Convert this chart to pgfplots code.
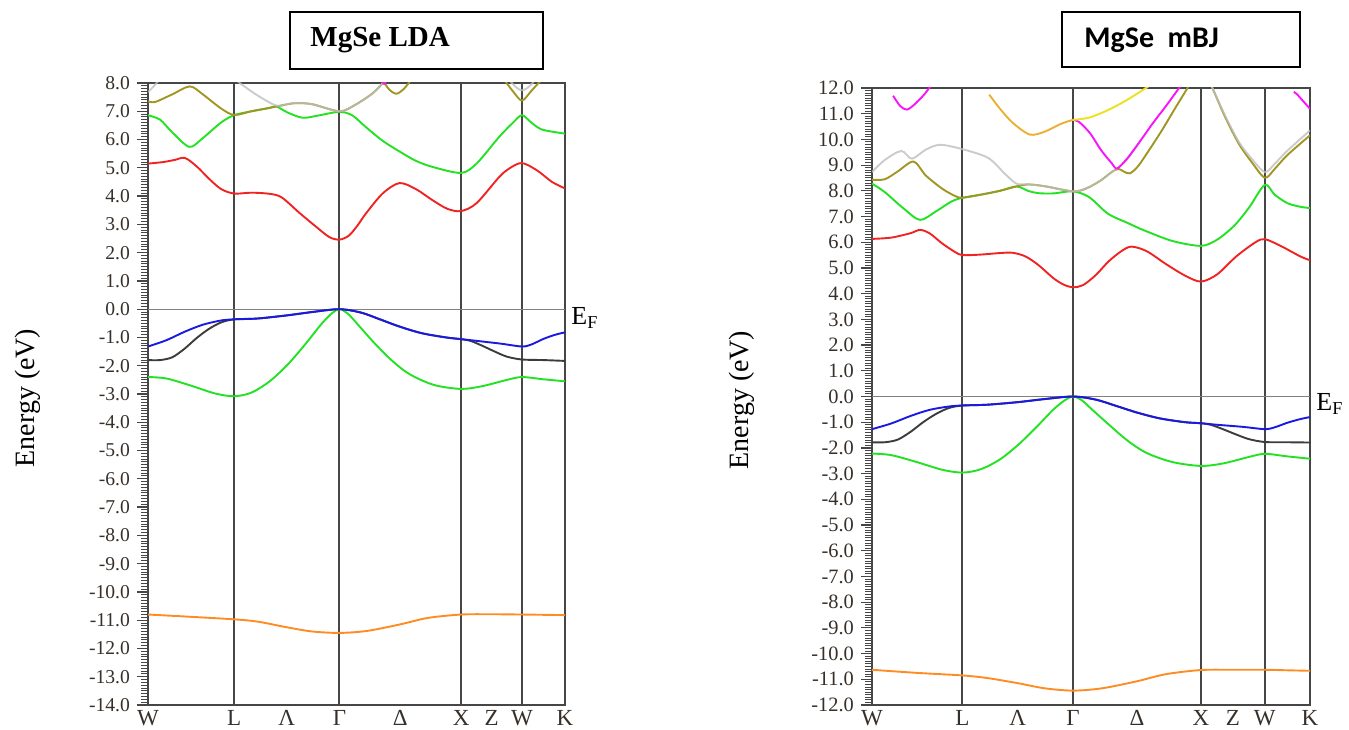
\documentclass[border=0pt]{standalone}
\usepackage{fontspec}
\setmainfont{Liberation Serif}
\newfontfamily\carlito{Carlito}
\usepackage{pgfplots}
\pgfplotsset{compat=1.18}

\definecolor{cRed}{RGB}{240,35,35}
\definecolor{cGreen}{RGB}{35,225,35}
\definecolor{cBlue}{RGB}{25,25,225}
\definecolor{cBlack}{RGB}{60,60,60}
\definecolor{cOlive}{RGB}{160,150,35}
\definecolor{cGray}{RGB}{190,190,190}
\definecolor{cOrange}{RGB}{255,140,35}
\definecolor{cMag}{RGB}{250,20,250}
\definecolor{cGold}{RGB}{235,175,50}
\definecolor{cYellow}{RGB}{235,225,30}
\definecolor{axc}{RGB}{70,70,70}
\definecolor{tickc}{RGB}{55,48,42}

\pgfplotsset{bandaxis/.style={
  scale only axis, anchor=south west,
  xmin=0, xmax=3.4267,
  xtick={0,0.7071,1.1401,1.5731,2.0731,2.5731,2.8231,3.0731,3.4267},
  xticklabels={W,L,Λ,Γ,Δ,X,Z,W,K},
  xtick pos=bottom, ytick pos=left,
  x tick style={draw=none},
  xticklabel style={font=\fontsize{11.5}{12}\selectfont, text=tickc, inner sep=0pt, anchor=north, yshift=3pt},
  extra x ticks={0.7071,1.5731,2.5731,3.0731},
  extra x tick labels={},
  extra x tick style={grid=major, major grid style={draw=axc, line width=1pt}, tick style={draw=none}},
  extra y ticks={0}, extra y tick labels={},
  extra y tick style={grid=major, major grid style={draw=gray, line width=0.5pt}},
  tick align=outside,
  minor y tick num=9,
  major tick length=5.5pt, minor tick length=3.5pt,
  y tick style={draw=axc, line width=0.6pt},
  minor y tick style={draw=axc, line width=0.5pt},
  axis line style={draw=axc, line width=1pt},
  yticklabel style={text=tickc, /pgf/number format/fixed, /pgf/number format/fixed zerofill, /pgf/number format/precision=1, /pgf/number format/assume math mode=true},
  every axis plot/.append style={no markers, smooth, line width=0.95pt},
}}

\begin{document}
\begin{tikzpicture}[x=1pt,y=1pt]
\useasboundingbox (0,0) rectangle (674.5,364.5);

% ---------------- LEFT: LDA ----------------
\begin{axis}[bandaxis, at={(74pt,12pt)}, width=208.5pt, height=311pt,
  ymin=-14, ymax=8, ytick={-14,-13,...,8},
  yticklabel style={font=\fontsize{9.8}{10}\selectfont}]
\addplot[cGreen] coordinates {(0,6.86) (0.1,6.70) (0.2,6.25) (0.34,5.74) (0.45,6.05) (0.6,6.6) (0.7071,6.86) (0.85,7.0) (1.0,7.12) (1.055,7.17) (1.15,6.95) (1.273,6.77) (1.4,6.85) (1.5731,6.98) (1.68,6.85) (1.79,6.44) (1.93,5.95) (2.066,5.58) (2.2,5.25) (2.34,5.03) (2.5731,4.82) (2.7,5.15) (2.885,6.09) (3.0,6.6) (3.0731,6.86) (3.15,6.6) (3.24,6.35) (3.4267,6.21)};
\addplot[cOlive] coordinates {(0,7.35) (0.06,7.33) (0.2,7.6) (0.344,7.88) (0.45,7.6) (0.6,7.1) (0.7071,6.87) (0.85,7.0) (1.0,7.12) (1.055,7.17) (1.15,7.25) (1.22,7.29) (1.35,7.25) (1.5731,7.0) (1.7,7.22) (1.85,7.65) (1.95,8.1) (2.0,8.4)};
\addplot[cOlive] coordinates {(1.93,8.1) (1.98,7.78) (2.04,7.62) (2.10,7.78) (2.16,8.1)};
\addplot[cOlive] coordinates {(2.93,8.1) (3.0,7.7) (3.0731,7.38) (3.15,7.72) (3.23,8.1)};
\addplot[cGray, opacity=0.8] coordinates {(0,7.68) (0.04,7.85) (0.09,8.1)};
\addplot[cGray, opacity=0.8] coordinates {(0.72,8.15) (0.754,8.0) (0.9,7.56) (1.055,7.2) (1.15,7.26) (1.22,7.29) (1.35,7.25) (1.5731,7.0) (1.7,7.22) (1.85,7.65) (1.95,8.1) (2.0,8.4)};
\addplot[cGray, opacity=0.8] coordinates {(2.98,8.05) (3.03,7.83) (3.0731,7.74) (3.12,7.83) (3.17,8.05)};
\addplot[cMag] coordinates {(1.92,8.08) (1.94,7.97) (1.96,8.08)};
\addplot[cRed] coordinates {(0,5.15) (0.12,5.2) (0.22,5.28) (0.303,5.35) (0.4,5.05) (0.5,4.62) (0.6,4.25) (0.7071,4.09) (0.85,4.12) (1.0,4.08) (1.1,3.95) (1.246,3.40) (1.383,2.91) (1.49,2.55) (1.5731,2.46) (1.65,2.6) (1.72,2.95) (1.79,3.38) (1.93,4.1) (2.066,4.46) (2.2,4.25) (2.34,3.85) (2.46,3.55) (2.5731,3.47) (2.7,3.75) (2.885,4.67) (2.97,4.98) (3.0731,5.17) (3.2,4.9) (3.32,4.5) (3.4267,4.27)};
\addplot[cGreen] coordinates {(0,-2.40) (0.15,-2.45) (0.35,-2.70) (0.55,-2.98) (0.7071,-3.08) (0.85,-2.95) (1.0,-2.55) (1.15,-1.95) (1.3,-1.20) (1.42,-0.55) (1.51,-0.15) (1.5731,0.0) (1.64,-0.15) (1.72,-0.52) (1.85,-1.15) (2.0,-1.8) (2.15,-2.3) (2.35,-2.68) (2.5731,-2.82) (2.75,-2.72) (2.95,-2.50) (3.0731,-2.40) (3.25,-2.48) (3.4267,-2.55)};
\addplot[cBlack] coordinates {(0,-1.80) (0.1,-1.80) (0.2,-1.70) (0.3,-1.40) (0.4,-1.02) (0.5,-0.70) (0.6,-0.47) (0.7071,-0.36) (0.9,-0.33) (1.14,-0.22) (1.35,-0.10) (1.5731,0) (1.75,-0.12) (1.9,-0.35) (2.07,-0.62) (2.25,-0.85) (2.45,-1.0) (2.5731,-1.06) (2.65,-1.12) (2.75,-1.30) (2.85,-1.50) (2.95,-1.68) (3.0731,-1.78) (3.25,-1.80) (3.4267,-1.83)};
\addplot[cBlue] coordinates {(0,-1.32) (0.15,-1.10) (0.3,-0.80) (0.45,-0.55) (0.6,-0.40) (0.7071,-0.36) (0.9,-0.33) (1.14,-0.22) (1.35,-0.10) (1.5731,0.0) (1.75,-0.12) (1.9,-0.35) (2.07,-0.62) (2.25,-0.85) (2.45,-1.0) (2.5731,-1.06) (2.7,-1.12) (2.9,-1.22) (3.0731,-1.32) (3.15,-1.25) (3.25,-1.05) (3.35,-0.90) (3.4267,-0.82)};
\addplot[cOrange] coordinates {(0,-10.80) (0.35,-10.88) (0.7071,-10.97) (0.9,-11.05) (1.14,-11.25) (1.35,-11.40) (1.5731,-11.45) (1.8,-11.38) (2.07,-11.15) (2.3,-10.92) (2.5731,-10.80) (2.82,-10.79) (3.0731,-10.80) (3.25,-10.81) (3.4267,-10.82)};
\end{axis}

% ---------------- RIGHT: mBJ ----------------
\begin{axis}[bandaxis, at={(436pt,12pt)}, width=219pt, height=308.5pt,
  ymin=-12, ymax=12, ytick={-12,-11,...,12},
  yticklabel style={font=\fontsize{10.2}{10}\selectfont}]
\addplot[cGreen] coordinates {(0,8.28) (0.1,7.95) (0.25,7.3) (0.376,6.87) (0.5,7.2) (0.62,7.58) (0.7071,7.73) (0.85,7.85) (1.0,8.0) (1.13,8.17) (1.22,8.0) (1.30,7.91) (1.42,7.9) (1.5731,7.98) (1.7,7.75) (1.846,7.11) (2.0,6.75) (2.13,6.46) (2.35,6.05) (2.5731,5.86) (2.7,6.1) (2.835,6.65) (2.95,7.35) (3.0731,8.23) (3.15,7.85) (3.25,7.52) (3.35,7.38) (3.4267,7.33)};
\addplot[cOlive] coordinates {(0,8.43) (0.1,8.45) (0.2,8.75) (0.325,9.14) (0.42,8.6) (0.55,8.08) (0.65,7.8) (0.7071,7.73) (0.85,7.85) (1.0,8.0) (1.13,8.17) (1.22,8.25) (1.35,8.18) (1.5731,7.98) (1.68,8.1) (1.791,8.41) (1.88,8.75) (1.93,8.85) (1.97,8.75) (2.017,8.68) (2.08,8.95) (2.17,9.6) (2.27,10.37) (2.37,11.2) (2.468,12.0) (2.5,12.3)};
\addplot[cOlive] coordinates {(2.62,12.4) (2.663,12.0) (2.76,10.9) (2.87,9.83) (2.97,9.12) (3.0731,8.51) (3.15,8.85) (3.247,9.38) (3.4267,10.16)};
\addplot[cGray, opacity=0.8] coordinates {(0,8.73) (0.1,9.2) (0.229,9.55) (0.312,9.25) (0.42,9.6) (0.533,9.79) (0.7071,9.62) (0.909,9.28) (1.04,8.66) (1.13,8.28) (1.22,8.25) (1.35,8.18) (1.5731,7.98) (1.68,8.1) (1.791,8.41) (1.88,8.75) (1.918,8.87) (2.0,9.25) (2.1,9.95)};
\addplot[cGray, opacity=0.8] coordinates {(2.62,12.45) (2.663,12.0) (2.76,10.95) (2.87,9.9) (2.97,9.25) (3.0731,8.73) (3.15,9.05) (3.247,9.55) (3.4267,10.35)};
\addplot[cMag] coordinates {(0.165,11.7) (0.22,11.3) (0.273,11.16) (0.33,11.35) (0.4,11.7) (0.455,12.05) (0.47,12.2)};
\addplot[cMag] coordinates {(1.5731,10.76) (1.62,10.68) (1.706,10.24) (1.791,9.59) (1.876,9.07) (1.918,8.87) (2.0,9.28) (2.1,9.95) (2.2,10.65) (2.3,11.3) (2.41,12.05) (2.44,12.25)};
\addplot[cMag] coordinates {(3.30,11.85) (3.326,11.75) (3.38,11.45) (3.4267,11.19)};
\addplot[cGold] coordinates {(0.917,11.74) (1.0,11.2) (1.1,10.65) (1.234,10.19) (1.35,10.3) (1.48,10.61) (1.5731,10.76)};
\addplot[cYellow] coordinates {(1.5731,10.76) (1.7,10.85) (1.85,11.15) (2.0,11.55) (2.143,12.0) (2.18,12.12)};
\addplot[cRed] coordinates {(0,6.13) (0.15,6.18) (0.3,6.35) (0.375,6.48) (0.45,6.35) (0.55,5.95) (0.65,5.62) (0.7071,5.50) (0.85,5.52) (1.0,5.58) (1.1,5.59) (1.2,5.45) (1.3,5.12) (1.42,4.6) (1.5,4.35) (1.5731,4.25) (1.65,4.33) (1.75,4.72) (1.85,5.25) (1.95,5.65) (2.03,5.83) (2.15,5.65) (2.3,5.15) (2.45,4.7) (2.5731,4.47) (2.7,4.75) (2.85,5.45) (3.0,6.0) (3.0731,6.12) (3.2,5.85) (3.35,5.45) (3.4267,5.30)};
\addplot[cGreen] coordinates {(0,-2.22) (0.15,-2.28) (0.35,-2.55) (0.55,-2.85) (0.7071,-2.96) (0.85,-2.83) (1.0,-2.45) (1.15,-1.85) (1.3,-1.12) (1.42,-0.50) (1.51,-0.14) (1.5731,0) (1.64,-0.14) (1.72,-0.50) (1.85,-1.08) (2.0,-1.72) (2.15,-2.2) (2.35,-2.55) (2.5731,-2.70) (2.75,-2.60) (2.95,-2.35) (3.0731,-2.23) (3.25,-2.33) (3.4267,-2.42)};
\addplot[cBlack] coordinates {(0,-1.78) (0.1,-1.78) (0.2,-1.68) (0.3,-1.38) (0.4,-1.0) (0.5,-0.68) (0.6,-0.45) (0.7071,-0.35) (0.9,-0.32) (1.14,-0.22) (1.35,-0.10) (1.5731,0) (1.75,-0.12) (1.9,-0.35) (2.07,-0.62) (2.25,-0.85) (2.45,-1.0) (2.5731,-1.04) (2.65,-1.10) (2.75,-1.28) (2.85,-1.48) (2.95,-1.66) (3.0731,-1.77) (3.25,-1.78) (3.4267,-1.79)};
\addplot[cBlue] coordinates {(0,-1.27) (0.15,-1.05) (0.3,-0.76) (0.45,-0.52) (0.6,-0.39) (0.7071,-0.35) (0.9,-0.32) (1.14,-0.22) (1.35,-0.10) (1.5731,0) (1.75,-0.12) (1.9,-0.35) (2.07,-0.62) (2.25,-0.85) (2.45,-1.0) (2.5731,-1.04) (2.7,-1.10) (2.9,-1.18) (3.0731,-1.27) (3.15,-1.20) (3.25,-1.02) (3.35,-0.88) (3.4267,-0.80)};
\addplot[cOrange] coordinates {(0,-10.63) (0.35,-10.75) (0.7071,-10.85) (0.9,-10.95) (1.14,-11.15) (1.35,-11.35) (1.5731,-11.44) (1.8,-11.35) (2.07,-11.08) (2.3,-10.8) (2.5731,-10.64) (2.82,-10.63) (3.0731,-10.63) (3.25,-10.65) (3.4267,-10.67)};
\end{axis}

% titles
\draw[line width=1pt] (145,330) rectangle (271.5,358.5);
\node[anchor=west, inner sep=0pt] at (155,344.5) {\fontsize{14.5}{15}\selectfont\bfseries MgSe LDA};
\draw[line width=1pt] (531,331) rectangle (650,358.5);
\node[anchor=west, inner sep=0pt] at (542,344.5) {\carlito\fontsize{15}{16}\selectfont\bfseries MgSe\ \ mBJ};

% y labels
\node[rotate=90] at (14,165.5) {\fontsize{14}{14}\selectfont Energy (eV)};
\node[rotate=90] at (371,164.5) {\fontsize{14}{14}\selectfont Energy (eV)};

% Fermi labels
\node[anchor=west, inner sep=0pt] at (285.5,205.5) {\fontsize{13}{13}\selectfont E\textsubscript{F}};
\node[anchor=west, inner sep=0pt] at (658,162.5) {\fontsize{13}{13}\selectfont E\textsubscript{F}};
\end{tikzpicture}
\end{document}
